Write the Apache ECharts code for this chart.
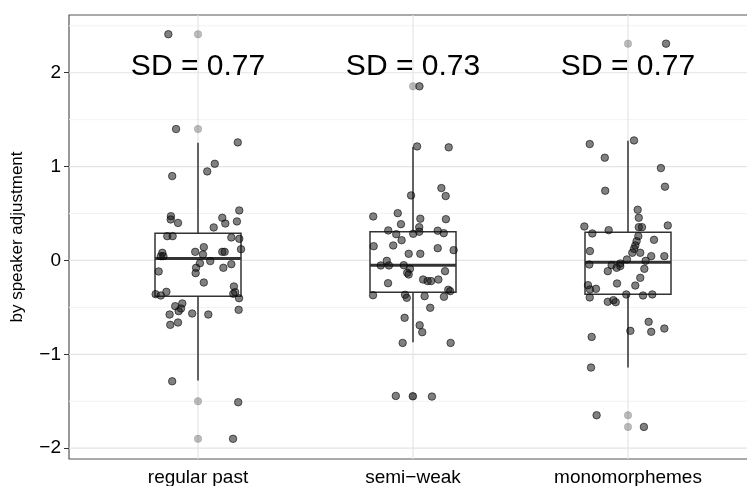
<!DOCTYPE html>
<html><head><meta charset="utf-8">
<script src="https://cdn.jsdelivr.net/npm/echarts@6/dist/echarts.min.js"></script>
<style>html,body{margin:0;padding:0;background:#fff}#c{width:747px;height:486px}</style>
</head><body><div id="c"></div>
<script>
const categories = ['regular past', 'semi\u2212weak', 'monomorphemes'];
const sdLabels = ['SD = 0.77', 'SD = 0.73', 'SD = 0.77'];
const sdLabelY = 2.06;
const yTicks = [-2, -1, 0, 1, 2];
const yMinor = [-1.5, -0.5, 0.5, 1.5, 2.5];
const xTicks = [1, 2, 3];
// [category, lower whisker, Q1, median, Q3, upper whisker]
const boxStats = [
  [1, -1.28, -0.38, 0.02, 0.29, 1.255],
  [2, -0.87, -0.338, -0.05, 0.306, 1.21],
  [3, -1.14, -0.36, -0.02, 0.30, 1.276]
];
const outliers = [[1, 2.41], [1, 1.40], [1, -1.50], [1, -1.90], [2, 1.855], [2, -1.447], [3, 2.31], [3, -1.65], [3, -1.773]];
const regularPast = [
  [0.862, 2.41], [0.898, 1.40], [1.185, 1.258], [1.078, 1.03], [1.043, 0.949], [0.88, 0.899],
  [1.192, 0.533], [0.874, 0.472], [0.873, 0.437], [0.907, 0.40], [1.113, 0.455], [1.127, 0.394],
  [1.181, 0.416], [1.073, 0.352], [0.857, 0.259], [0.882, 0.259], [1.155, 0.245], [1.192, 0.231],
  [1.027, 0.142], [0.987, 0.092], [1.023, 0.064], [1.113, 0.092], [1.124, 0.092], [1.2, 0.12],
  [0.834, 0.082], [0.827, 0.046], [0.839, 0.046], [1.057, -0.007], [1.009, -0.029], [1.155, -0.039],
  [0.817, -0.117], [0.991, -0.078], [0.989, -0.135], [1.118, -0.078], [1.027, -0.235], [0.803, -0.359],
  [0.827, -0.373], [0.853, -0.334], [1.167, -0.277], [1.164, -0.355], [1.173, -0.338], [1.191, -0.402],
  [0.927, -0.458], [0.894, -0.487], [0.921, -0.512], [0.91, -0.54], [0.868, -0.576], [0.973, -0.565],
  [1.048, -0.576], [1.189, -0.526], [0.907, -0.661], [0.871, -0.686], [0.88, -1.287], [1.187, -1.51],
  [1.163, -1.90]
];
const semiWeak = [
  [2.03, 1.855], [2.019, 1.215], [2.166, 1.205], [2.132, 0.771], [2.152, 0.686], [1.991, 0.693],
  [1.815, 0.469], [1.929, 0.504], [2.034, 0.445], [2.153, 0.44], [1.944, 0.387], [2.029, 0.355],
  [1.885, 0.32], [1.922, 0.28], [2.001, 0.284], [2.029, 0.306], [2.115, 0.317], [2.143, 0.291],
  [1.947, 0.216], [1.817, 0.152], [1.908, 0.16], [2.115, 0.131], [2.189, 0.11], [1.98, 0.071],
  [2.034, 0.071], [1.85, -0.053], [1.878, -0.004], [1.888, -0.053], [1.957, -0.05], [1.986, -0.089],
  [1.973, -0.131], [1.98, -0.149], [2.149, -0.114], [1.884, -0.242], [2.047, -0.203], [2.068, -0.22],
  [2.084, -0.22], [2.118, -0.203], [2.164, -0.312], [2.173, -0.327], [1.814, -0.37], [1.963, -0.366],
  [1.971, -0.398], [2.054, -0.38], [2.144, -0.387], [2.08, -0.504], [1.961, -0.611], [2.031, -0.69],
  [2.043, -0.764], [1.952, -0.878], [2.175, -0.878], [1.92, -1.443], [1.999, -1.447], [2.088, -1.45]
];
const monomorphemes = [
  [3.177, 2.31], [2.822, 1.24], [3.028, 1.279], [2.892, 1.095], [3.153, 0.984], [3.172, 0.786],
  [2.894, 0.743], [3.045, 0.54], [3.05, 0.455], [2.797, 0.362], [2.91, 0.323], [3.05, 0.355],
  [3.065, 0.355], [3.185, 0.373], [2.834, 0.288], [3.048, 0.259], [3.121, 0.22], [3.04, 0.206],
  [3.034, 0.16], [3.028, 0.124], [2.823, 0.1], [3.02, 0.082], [3.057, 0.082], [3.108, 0.046],
  [3.169, 0.046], [2.995, 0.011], [3.082, -0.004], [2.82, -0.043], [2.924, -0.05], [2.964, -0.032],
  [2.947, -0.078], [2.964, -0.06], [3.076, -0.089], [2.906, -0.114], [3.057, -0.185], [2.949, -0.245],
  [3.034, -0.267], [2.814, -0.263], [2.823, -0.309], [2.851, -0.302], [2.822, -0.394], [2.992, -0.362],
  [3.07, -0.373], [3.113, -0.362], [2.906, -0.44], [2.932, -0.423], [2.943, -0.444], [3.096, -0.654],
  [3.169, -0.725], [3.011, -0.75], [3.108, -0.76], [2.831, -0.814], [2.828, -1.141], [2.854, -1.649],
  [3.074, -1.773]
];

const FONT = '"Liberation Sans", Arial, Helvetica, sans-serif';
const chart = echarts.init(document.getElementById('c'), null, {renderer: 'canvas'});

function hLine(color, width) {
  return function (params, api) {
    const cs = params.coordSys;
    const y = api.coord([1, api.value(1)])[1];
    return {type: 'line', shape: {x1: cs.x, y1: y, x2: cs.x + cs.width, y2: y},
      style: {stroke: color, lineWidth: width}, silent: true};
  };
}
function vLine(color, width) {
  return function (params, api) {
    const cs = params.coordSys;
    const x = api.coord([api.value(0), 0])[0];
    return {type: 'line', shape: {x1: x, y1: cs.y, x2: x, y2: cs.y + cs.height},
      style: {stroke: color, lineWidth: width}, silent: true};
  };
}

const pointStyle = {color: 'rgba(20,20,20,0.68)', borderColor: 'rgba(0,0,0,0.8)', borderWidth: 0.9};

chart.setOption({
  animation: false,
  backgroundColor: '#fff',
  grid: {left: 69, right: -10, top: 15, bottom: 27, outerBoundsMode: 'none', containLabel: false,
    show: true, borderColor: '#555', borderWidth: 1.2, backgroundColor: 'transparent'},
  xAxis: {
    type: 'value', min: 0.4, max: 3.6,
    axisLine: {show: false}, splitLine: {show: false},
    axisTick: {show: true, customValues: xTicks, length: 4, lineStyle: {color: '#333'}},
    axisLabel: {customValues: xTicks, formatter: v => categories[Math.round(v) - 1], fontSize: 19, color: '#000', margin: 9, fontFamily: FONT}
  },
  yAxis: {
    type: 'value', min: -2.115, max: 2.615,
    axisLine: {show: false}, splitLine: {show: false},
    axisTick: {show: true, customValues: yTicks, length: 5, lineStyle: {color: '#333'}},
    axisLabel: {customValues: yTicks, formatter: v => v < 0 ? '\u2212' + (-v) : String(v), fontSize: 19, color: '#000', margin: 8, fontFamily: FONT},
    name: 'by speaker adjustment', nameLocation: 'middle', nameGap: 43,
    nameTextStyle: {fontSize: 17, color: '#000', fontFamily: FONT}
  },
  series: [
    {type: 'custom', z: 0, renderItem: hLine('#f2f2f2', 1), data: yMinor.map(v => [1, v]), silent: true},
    {type: 'custom', z: 0, renderItem: hLine('#e4e4e4', 1.2), data: yTicks.map(v => [1, v]), silent: true},
    {type: 'custom', z: 0, renderItem: vLine('#e4e4e4', 1.2), data: xTicks.map(v => [v, 0]), silent: true},
    {
      type: 'custom', z: 1, silent: true,
      encode: {x: 0, y: [1, 2, 3, 4, 5]},
      data: boxStats,
      renderItem: function (params, api) {
        const x = api.value(0);
        const lo = api.coord([x, api.value(1)]);
        const q1 = api.coord([x, api.value(2)]);
        const md = api.coord([x, api.value(3)]);
        const q3 = api.coord([x, api.value(4)]);
        const hi = api.coord([x, api.value(5)]);
        const l = api.coord([x - 0.2, 0])[0];
        const r = api.coord([x + 0.2, 0])[0];
        const st = {stroke: '#333', lineWidth: 1.5};
        return {type: 'group', children: [
          {type: 'line', shape: {x1: hi[0], y1: hi[1], x2: q3[0], y2: q3[1]}, style: st},
          {type: 'line', shape: {x1: lo[0], y1: lo[1], x2: q1[0], y2: q1[1]}, style: st},
          {type: 'rect', shape: {x: l, y: q3[1], width: r - l, height: q1[1] - q3[1]}, style: {fill: '#fff', stroke: '#333', lineWidth: 1.5}},
          {type: 'line', shape: {x1: l, y1: md[1], x2: r, y2: md[1]}, style: {stroke: '#333', lineWidth: 3}}
        ]};
      }
    },
    {type: 'scatter', z: 2, symbolSize: 7.5, data: outliers, silent: true,
      itemStyle: {color: 'rgba(0,0,0,0.32)', borderColor: 'rgba(0,0,0,0.2)', borderWidth: 0.8}},
    {type: 'scatter', z: 3, symbolSize: 7.5, data: regularPast, silent: true, itemStyle: pointStyle},
    {type: 'scatter', z: 3, symbolSize: 7.5, data: semiWeak, silent: true, itemStyle: pointStyle},
    {type: 'scatter', z: 3, symbolSize: 7.5, data: monomorphemes, silent: true, itemStyle: pointStyle},
    {
      type: 'custom', z: 4, silent: true,
      data: sdLabels.map((t, i) => [i + 1, sdLabelY]),
      renderItem: function (params, api) {
        const p = api.coord([api.value(0), api.value(1)]);
        return {type: 'text', x: p[0], y: p[1], style: {text: sdLabels[params.dataIndex], fill: '#000', fontSize: 30, fontFamily: FONT, align: 'center', verticalAlign: 'middle', textAlign: 'center', textVerticalAlign: 'middle'}};
      }
    }
  ]
});
</script></body></html>
